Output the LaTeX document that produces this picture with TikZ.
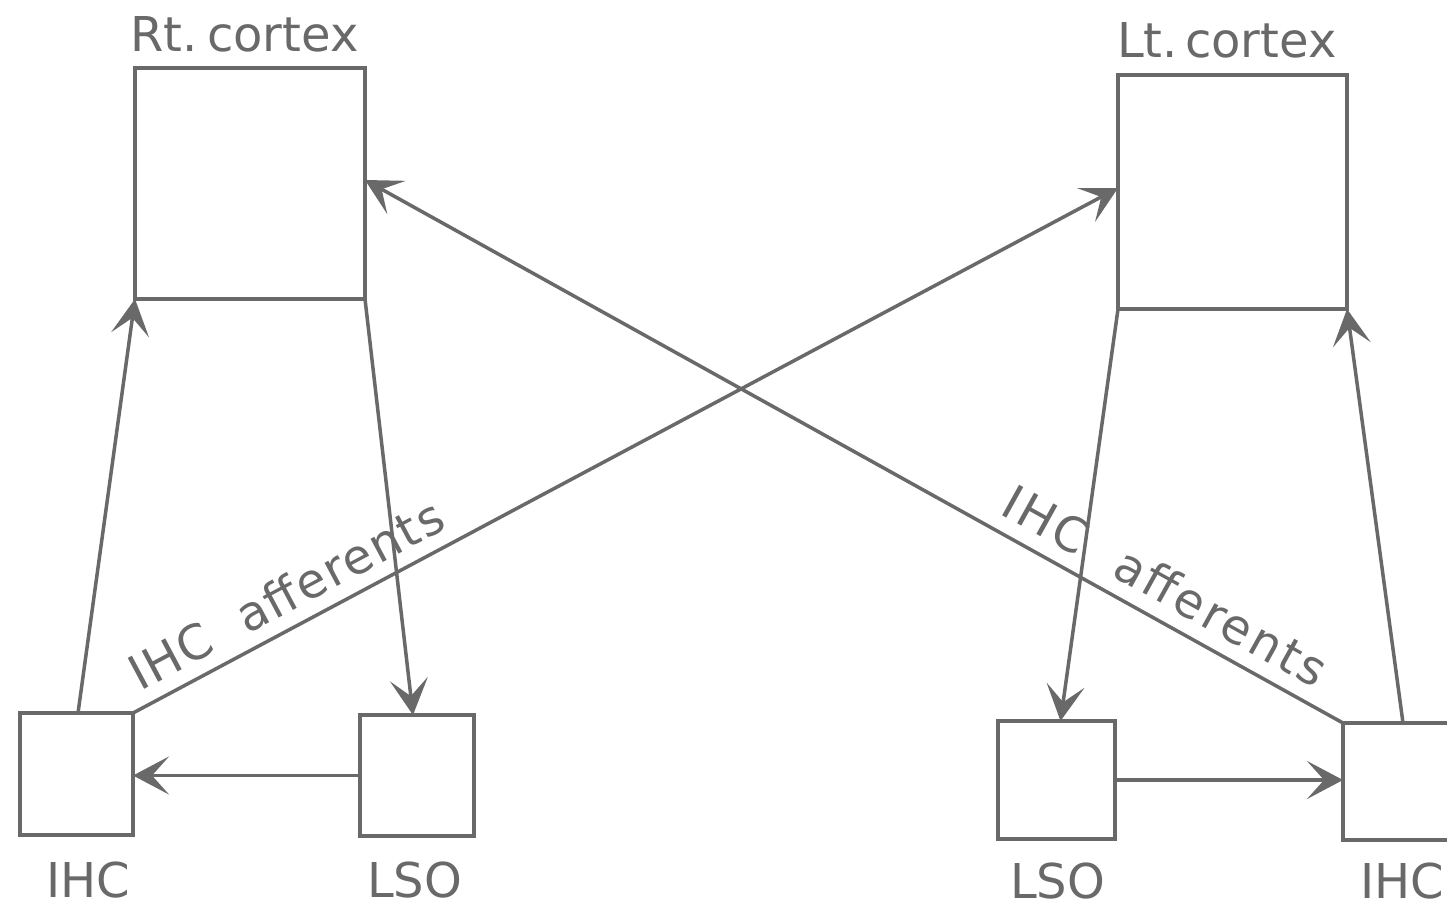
\documentclass[tikz,border=0pt]{standalone}
\usepackage{fontspec}
\setmainfont{DejaVu Sans}
\newfontfamily\widelabel[LetterSpace=4]{DejaVu Sans}
\newfontfamily\widerlabel[LetterSpace=6]{DejaVu Sans}
\usetikzlibrary{arrows.meta,calc}
\definecolor{ink}{RGB}{105,105,105}
\begin{document}
\begin{tikzpicture}[x=1pt,y=-1pt,
  box/.style 2 args={draw=ink, line width=3.5pt, rectangle, inner sep=0pt,
    outer sep=0pt, minimum width=#1, minimum height=#2},
  conn/.style={draw=ink, line width=3.5pt,
    -{Stealth[length=36pt,width=38pt,inset=17pt]}},
  lbl/.style={text=ink, inner sep=0pt, font=\fontsize{48}{56}\selectfont}]

\useasboundingbox (0,0) rectangle (1447,907);
\fill[white] (0,0) rectangle (1447,907);
\clip (0,0) rectangle (1447,907);

% cortices
\node[box={230pt}{231pt}] (rtc) at (250,183.5) {};
\node[box={229pt}{234pt}] (ltc) at (1232.5,192) {};

% brainstem / cochlear stations
\node[box={113pt}{122pt}] (ihcL) at (76.5,774) {};
\node[box={114pt}{121pt}] (lsoL) at (417,775.5) {};
\node[box={117pt}{118pt}] (lsoR) at (1056.5,780) {};
\node[box={114pt}{117pt}] (ihcR) at (1400,781.5) {};

% titles
\node[lbl, anchor=base west] (rtcT) at (130,52) {Rt.\hspace{0.2em}cortex};
\node[lbl, anchor=base west] (ltcT) at (1117,58) {Lt.\hspace{0.15em}cortex};
\node[lbl, anchor=base west] (ihcLT) at (46,897) {IHC};
\node[lbl, anchor=base west] (lsoLT) at (367,897) {LSO};
\node[lbl, anchor=base west] (lsoRT) at (1010,898) {LSO};
\node[lbl, anchor=base west] (ihcRT) at (1360,898) {IHC};

% ipsilateral loops
\draw[conn] ([xshift=1.5pt]ihcL.north) -- (rtc.south west);
\draw[conn] (rtc.south east) -- ([xshift=-4pt]lsoL.north);
\draw[conn] (lsoL.west) -- (lsoL.west -| ihcL.east);
\draw[conn] (ltc.south west) -- ([xshift=4pt]lsoR.north);
\draw[conn] (lsoR.east) -- (lsoR.east -| ihcR.west);
\draw[conn] ([xshift=3pt]ihcR.north) -- (ltc.south east);

% crossed afferent pathways
\draw[conn] (ihcL.north east) -- ([yshift=4pt]ltc.west);
\draw[conn] (ihcR.north west) -- ([yshift=3.5pt]rtc.east);

\node[lbl, anchor=base west, rotate=28.06] (affL) at (140,692)
  {\widelabel IHC\hspace{0.7em}afferents};
\node[lbl, anchor=base west, rotate=-29.04] (affR) at (998,513)
  {\widerlabel IHC\hspace{0.8em}afferents};

\end{tikzpicture}
\end{document}
